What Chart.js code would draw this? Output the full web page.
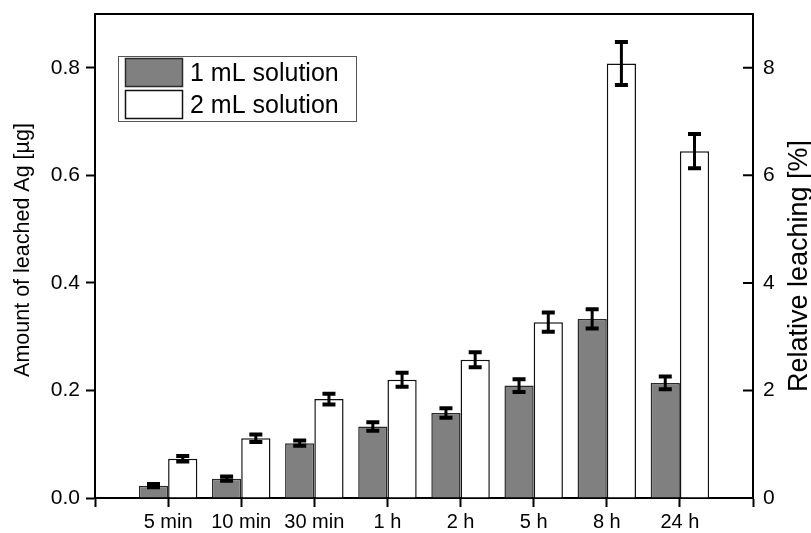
<!DOCTYPE html>
<html>
<head>
<meta charset="utf-8">
<script src="https://cdn.jsdelivr.net/npm/chart.js"></script>
<style>
  body { margin: 0; background: #fff; }
  #wrap { width: 811px; height: 533px; }
</style>
</head>
<body>
<div id="wrap"><canvas id="leach" width="811" height="533"></canvas></div>
<script>
// time points (empty slots at both ends keep the axis ticks at the frame edges)
const times = ['5 min', '10 min', '30 min', '1 h', '2 h', '5 h', '8 h', '24 h'];
const oneMl = [0.023, 0.036, 0.102, 0.133, 0.158, 0.209, 0.333, 0.214];
const oneMlErr = [0.003, 0.004, 0.005, 0.008, 0.009, 0.012, 0.018, 0.012];
const twoMl = [0.073, 0.111, 0.184, 0.220, 0.257, 0.327, 0.808, 0.645];
const twoMlErr = [0.005, 0.007, 0.010, 0.013, 0.014, 0.018, 0.040, 0.032];
const seriesNames = ['1 mL solution', '2 mL solution'];
const leftTitle = 'Amount of leached Ag [µg]';
const rightTitle = 'Relative leaching [%]';

const FONT = "'Liberation Sans', Arial, sans-serif";
const pad = arr => [null, ...arr, null];

// error bars drawn on top of the bars, through the y scale
const errorBars = {
    id: 'errorBars',
    afterDatasetsDraw(chart) {
        const ctx = chart.ctx;
        const y = chart.scales.y;
        const errs = [pad(oneMlErr), pad(twoMlErr)];
        ctx.save();
        ctx.strokeStyle = '#000';
        chart.data.datasets.forEach((ds, di) => {
            const meta = chart.getDatasetMeta(di);
            meta.data.forEach((bar, i) => {
                const v = ds.data[i];
                if (v == null) return;
                const e = errs[di][i];
                const top = y.getPixelForValue(v + e);
                const bot = y.getPixelForValue(v - e);
                ctx.lineWidth = 3;
                ctx.beginPath();
                ctx.moveTo(bar.x, top);
                ctx.lineTo(bar.x, bot);
                ctx.stroke();
                ctx.lineWidth = 4;
                ctx.beginPath();
                ctx.moveTo(bar.x - 6.5, top);
                ctx.lineTo(bar.x + 6.5, top);
                ctx.moveTo(bar.x - 6.5, bot);
                ctx.lineTo(bar.x + 6.5, bot);
                ctx.stroke();
            });
        });
        ctx.restore();
    }
};

// top frame line, inward ticks on the right axis, axis titles and the boxed legend
const frameAndLegend = {
    id: 'frameAndLegend',
    afterDraw(chart) {
        const ctx = chart.ctx;
        const a = chart.chartArea;
        const y2 = chart.scales.y2;
        ctx.save();
        ctx.strokeStyle = '#000';
        ctx.lineWidth = 2;
        ctx.beginPath();
        ctx.moveTo(a.left - 1, a.top);
        ctx.lineTo(a.right + 1, a.top);
        y2.ticks.forEach(t => {
            const py = y2.getPixelForValue(t.value);
            ctx.moveTo(a.right, py);
            ctx.lineTo(a.right - 10, py);
        });
        ctx.stroke();

        // axis titles, both reading bottom to top
        ctx.fillStyle = '#000';
        ctx.textAlign = 'center';
        ctx.textBaseline = 'middle';
        ctx.save();
        ctx.translate(23, 250);
        ctx.rotate(-Math.PI / 2);
        ctx.font = '21.5px ' + FONT;
        ctx.fillText(leftTitle, 0, 0);
        ctx.restore();
        ctx.save();
        ctx.translate(800, 266);
        ctx.rotate(-Math.PI / 2);
        ctx.font = '27px ' + FONT;
        ctx.fillText(rightTitle, 0, 0);
        ctx.restore();

        // legend
        const lx = 118, ly = 56;
        ctx.textAlign = 'left';
        ctx.lineWidth = 1;
        ctx.strokeStyle = '#555';
        ctx.fillStyle = '#fff';
        ctx.fillRect(lx, ly, 238, 65);
        ctx.strokeRect(lx + 0.5, ly + 0.5, 238, 65);
        chart.data.datasets.forEach((ds, i) => {
            const sy = ly + 2 + i * 32;
            ctx.fillStyle = ds.backgroundColor;
            ctx.fillRect(lx + 7, sy, 58, 29);
            ctx.lineWidth = 1.5;
            ctx.strokeStyle = ds.borderColor;
            ctx.strokeRect(lx + 7.5, sy + 0.5, 57, 28);
            ctx.fillStyle = '#000';
            ctx.font = '25px ' + FONT;
            ctx.fillText(seriesNames[i], lx + 72, sy + 16);
        });
        ctx.restore();
    }
};

// fixed axis boxes so the frame sits where the reference has it
const fitY = w => s => { s.width = w; s.paddingTop = 0; s.paddingBottom = 0; };

new Chart(document.getElementById('leach'), {
    type: 'bar',
    data: {
        labels: ['', ...times, ''],
        datasets: [
            {
                label: seriesNames[0],
                data: pad(oneMl),
                backgroundColor: '#808080',
                borderColor: '#2a2a2a',
                borderWidth: 1.5,
                categoryPercentage: 0.8,
                barPercentage: 1.0
            },
            {
                label: seriesNames[1],
                data: pad(twoMl),
                backgroundColor: '#ffffff',
                borderColor: '#111111',
                borderWidth: 1.5,
                categoryPercentage: 0.8,
                barPercentage: 1.0
            }
        ]
    },
    options: {
        responsive: false,
        animation: false,
        layout: { padding: { top: 14, left: 0, right: 0, bottom: 0 } },
        plugins: {
            legend: { display: false },
            tooltip: { enabled: false }
        },
        scales: {
            x: {
                offset: false,
                grid: { offset: false, drawOnChartArea: false, drawTicks: true, tickLength: 9, tickColor: '#000', tickWidth: 2 },
                border: { display: true, color: '#000', width: 2 },
                ticks: { color: '#000', font: { family: FONT, size: 20 }, padding: 3, maxRotation: 0, autoSkip: false },
                afterFit: s => { s.height = 35; s.paddingLeft = 0; s.paddingRight = 0; }
            },
            y: {
                position: 'left',
                min: 0,
                max: 0.9,
                grid: { drawOnChartArea: false, drawTicks: true, tickLength: 9, tickColor: '#000', tickWidth: 2 },
                border: { display: true, color: '#000', width: 2 },
                ticks: {
                    stepSize: 0.2,
                    includeBounds: false,
                    color: '#000',
                    font: { family: FONT, size: 21 },
                    padding: 6,
                    callback: v => v.toFixed(1)
                },
                afterFit: fitY(95)
            },
            y2: {
                position: 'right',
                min: 0,
                max: 9,
                grid: { drawOnChartArea: false, drawTicks: false },
                border: { display: true, color: '#000', width: 2 },
                ticks: {
                    stepSize: 2,
                    includeBounds: false,
                    color: '#000',
                    font: { family: FONT, size: 21 },
                    padding: 10
                },
                afterFit: fitY(58)
            }
        }
    },
    plugins: [errorBars, frameAndLegend]
});
</script>
</body>
</html>
